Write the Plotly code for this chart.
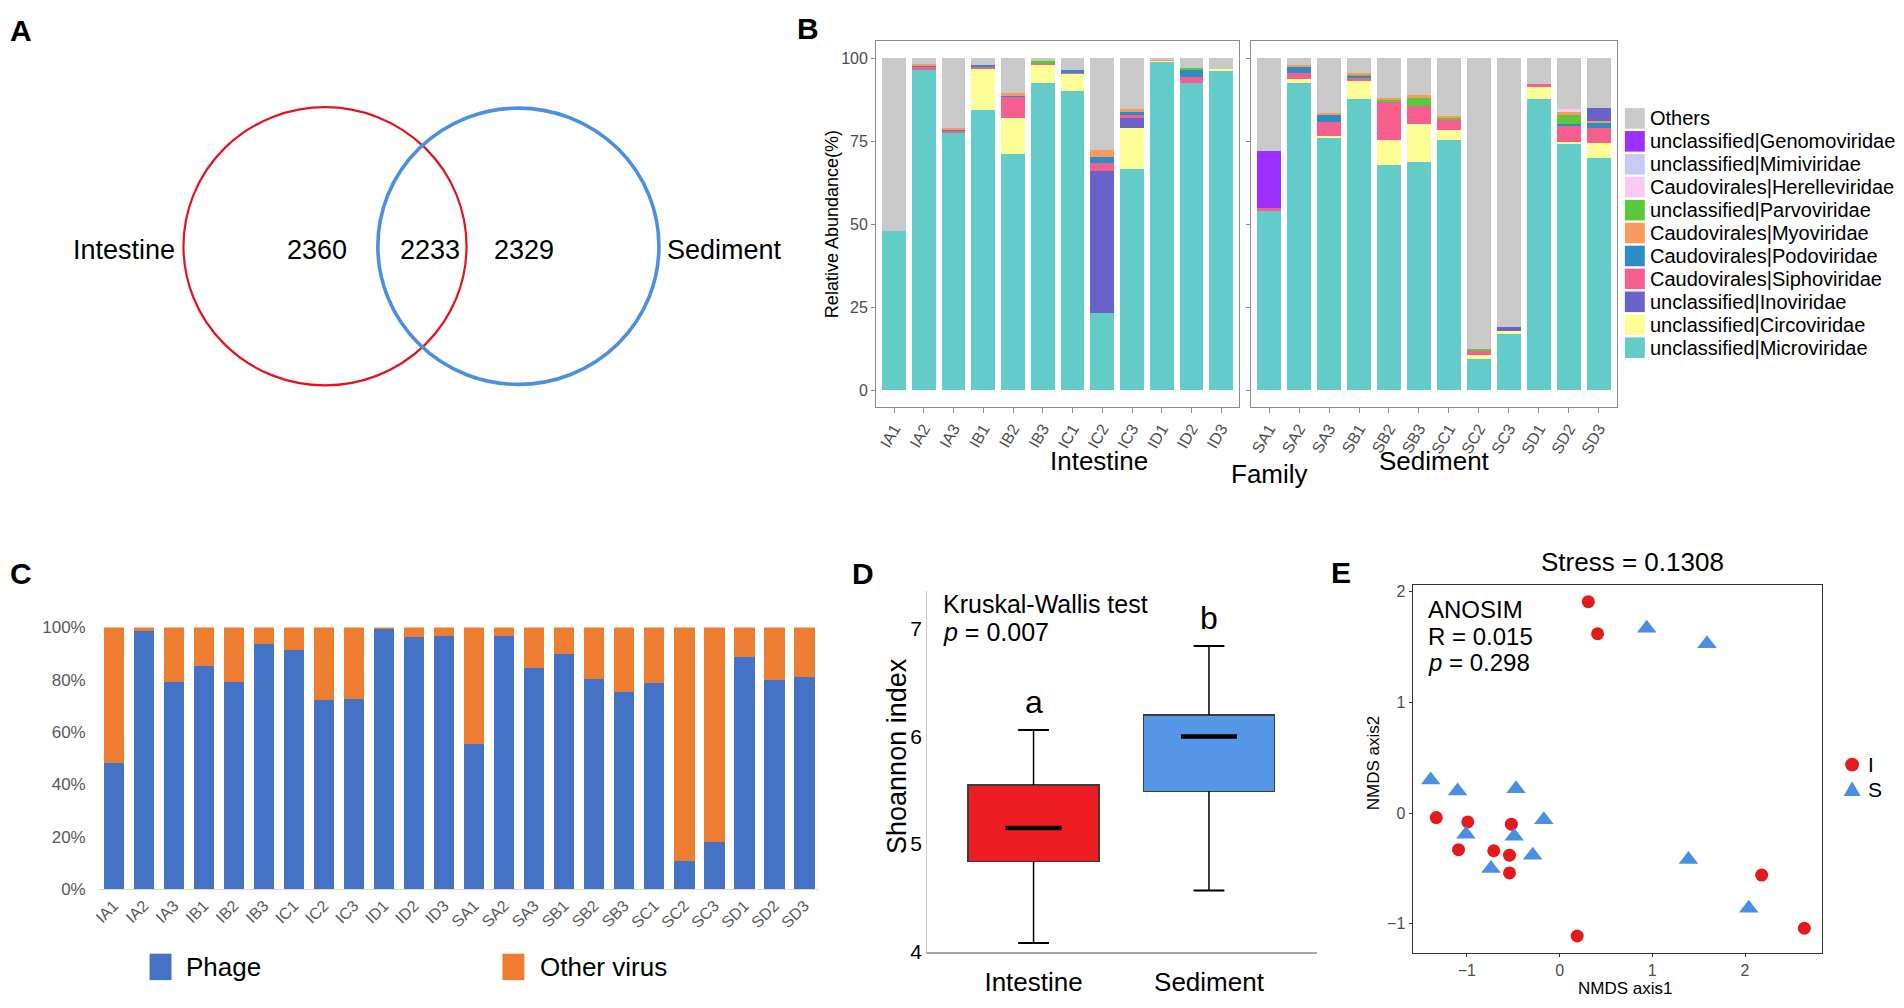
import plotly.graph_objects as go

# ---------------- data ----------------
venn_sets = ["Intestine", "Sediment"]
venn_counts = [2360, 2233, 2329]  # Intestine only, shared, Sediment only

samples_intestine = ["IA1", "IA2", "IA3", "IB1", "IB2", "IB3", "IC1", "IC2", "IC3", "ID1", "ID2", "ID3"]
samples_sediment = ["SA1", "SA2", "SA3", "SB1", "SB2", "SB3", "SC1", "SC2", "SC3", "SD1", "SD2", "SD3"]
facet_names = ["Intestine", "Sediment"]

microviridae = [48.1, 96.4, 77.5, 84.4, 71.2, 92.5, 90.2, 23.2, 66.5, 99.0, 92.5, 96.5,
                53.9, 92.5, 76.3, 87.6, 67.7, 68.7, 75.5, 9.4, 17.2, 87.6, 74.3, 70.0]
circoviridae = [0, 0, 0, 12.2, 10.7, 5.3, 5.3, 0, 12.5, 0.4, 0, 0.2,
                0, 1.1, 0.4, 5.4, 7.7, 11.5, 3.0, 1.2, 0.6, 3.6, 0.5, 4.6]
inoviridae = [0, 0, 0, 0, 0, 0, 0, 42.8, 3.0, 0, 0, 0,
              0, 0, 0, 0, 0, 0, 0, 0, 1.2, 0, 0, 0]
siphoviridae = [0, 0.9, 0.9, 0.7, 6.4, 0.7, 0.4, 2.4, 1.3, 0, 1.9, 0,
                1.1, 2.0, 4.1, 1.4, 11.3, 5.4, 3.0, 1.4, 0, 1.0, 4.7, 4.5]
podoviridae = [0, 0.6, 0.3, 0.6, 0.7, 0, 0.5, 1.7, 0.6, 0, 1.9, 0,
               0, 1.6, 2.1, 0.5, 0, 0, 0, 0, 0, 0, 0.7, 1.4]
parvoviridae = [0, 0, 0, 0, 0, 0.5, 0, 0, 0, 0, 0.7, 0,
                0, 0, 0, 0.3, 0.7, 2.8, 0.7, 0.5, 0, 0, 3.1, 0]
myoviridae = [0, 0.4, 0.4, 0, 0.6, 0, 0, 2.1, 0.9, 0.3, 0, 0,
              0, 0.7, 0.7, 0.3, 0.7, 0.4, 0.5, 0, 0, 0, 0.6, 0.7]
herelleviridae = [0, 0, 0, 0, 0, 0, 0, 0, 0, 0, 0, 0,
                  0, 0, 0, 0, 0, 0, 0, 0, 0, 0, 0.9, 0]
mimiviridae = [0, 0, 0, 0, 0, 0, 0, 0, 0, 0, 0, 0,
               0, 0, 0, 0, 0, 0, 0, 0, 0, 0, 0, 0]
genomoviridae = [0, 0, 0, 0, 0, 0, 0, 0, 0, 0, 0, 0,
                 16.9, 0, 0, 0, 0, 0, 0, 0, 0, 0, 0, 0]
inoviridae_upper = [0, 0, 0, 0, 0, 0, 0, 0, 0, 0, 0, 0,
                    0, 0, 0, 0, 0, 0, 0, 0, 0, 0, 0, 3.8]
others = [51.9, 1.7, 20.9, 2.1, 10.4, 1.0, 3.6, 27.8, 15.2, 0.3, 3.0, 3.3,
          28.1, 2.1, 16.4, 4.5, 11.9, 11.2, 17.3, 87.5, 81.0, 7.8, 15.2, 15.0]

samples_all = samples_intestine + samples_sediment
phage_pct = [48.3, 98.8, 79.3, 85.3, 79.0, 93.6, 91.4, 72.2, 72.6, 99.3, 96.4, 96.6,
             55.3, 96.9, 84.3, 89.9, 80.2, 75.2, 78.7, 10.8, 18.1, 88.8, 80.0, 80.9]
other_virus_pct = [51.7, 1.2, 20.7, 14.7, 21.0, 6.4, 8.6, 27.8, 27.4, 0.7, 3.6, 3.4,
                   44.7, 3.1, 15.7, 10.1, 19.8, 24.8, 21.3, 89.2, 81.9, 11.2, 20.0, 19.1]

box_groups = ["Intestine", "Sediment"]
box_lower = [4.08, 4.57]
box_q1 = [4.84, 5.49]
box_median = [5.15, 6.00]
box_q3 = [5.55, 6.20]
box_upper = [6.06, 6.84]
sig_letters = ["a", "b"]

nmds_groups = ["I", "S"]
nmds_I_x = [0.31, 0.41, -1.33, -0.99, -0.52, -1.09, -0.71, -0.54, -0.54, 2.18, 0.19, 2.64]
nmds_I_y = [1.91, 1.62, -0.04, -0.08, -0.10, -0.33, -0.34, -0.38, -0.54, -0.56, -1.11, -1.04]
nmds_S_x = [0.94, 1.59, -1.39, -1.10, -0.47, -0.17, -1.01, -0.49, -0.29, -0.74, 1.39, 2.04]
nmds_S_y = [1.67, 1.53, 0.30, 0.20, 0.22, -0.06, -0.19, -0.21, -0.38, -0.50, -0.42, -0.86]

# ---------------- layout helpers ----------------
OX, OY, FW, FH = 8, 8, 1888, 990


def fx(X):
    return (X - OX) / FW


def fy(Y):
    return 1 - (Y - OY) / FH


FONT = "Liberation Sans, Arial, Helvetica, sans-serif"
annotations = []
shapes = []


def text(X, Y, s, size, color="black", xanchor="center", yanchor="middle", angle=0):
    annotations.append(dict(x=fx(X), y=fy(Y), xref="paper", yref="paper", text=s, showarrow=False,
                            xanchor=xanchor, yanchor=yanchor, textangle=angle,
                            font=dict(family=FONT, size=size, color=color)))


fig = go.Figure()

# ---------------- Panel A: Venn ----------------
venn_geo = [(320, 242, 142, "#E3141C", 2.2), (514, 242, 141, "#4A90E2", 3.6)]
for cx, cy, r, col, lw in venn_geo:
    shapes.append(dict(type="circle", xref="paper", yref="paper",
                       x0=fx(cx - r), x1=fx(cx + r), y0=fy(cy + r), y1=fy(cy - r),
                       line=dict(color=col, width=lw)))
text(118, 246, venn_sets[0], 27)
text(721, 246, venn_sets[1], 27)
for X, v in zip([312, 425, 520], venn_counts):
    text(X, 246, str(v), 27)

# ---------------- Panel B: stacked family bars ----------------
stack = [
    ("unclassified|Microviridae", microviridae, "#63CBC8"),
    ("unclassified|Circoviridae", circoviridae, "#FDFD96"),
    ("unclassified|Inoviridae", inoviridae, "#6963C9"),
    ("Caudovirales|Siphoviridae", siphoviridae, "#F55E8E"),
    ("Caudovirales|Podoviridae", podoviridae, "#2C8DC6"),
    ("unclassified|Parvoviridae", parvoviridae, "#5BC83B"),
    ("Caudovirales|Myoviridae", myoviridae, "#F89A5D"),
    ("Caudovirales|Herelleviridae", herelleviridae, "#F9C8F3"),
    ("unclassified|Mimiviridae", mimiviridae, "#C9C9F5"),
    ("unclassified|Genomoviridae", genomoviridae, "#9B30FF"),
    ("unclassified|Inoviridae ", inoviridae_upper, "#6963C9"),
    ("Others", others, "#C9C9C9"),
]
n_i = len(samples_intestine)
for name, vals, col in stack:
    for axx, axy, samp, part in [("x", "y", samples_intestine, vals[:n_i]),
                                 ("x2", "y2", samples_sediment, vals[n_i:])]:
        fig.add_trace(go.Bar(x=samp, y=part, xaxis=axx, yaxis=axy, name=name, width=0.8,
                             marker=dict(color=col, line=dict(width=0)), showlegend=False,
                             hoverinfo="x+y+name"))

legend_order = ["Others", "unclassified|Genomoviridae", "unclassified|Mimiviridae",
                "Caudovirales|Herelleviridae", "unclassified|Parvoviridae", "Caudovirales|Myoviridae",
                "Caudovirales|Podoviridae", "Caudovirales|Siphoviridae", "unclassified|Inoviridae",
                "unclassified|Circoviridae", "unclassified|Microviridae"]
col_of = {n: c for n, _, c in stack}
for i, nm in enumerate(legend_order):
    yc = 111.5 + i * 23.4
    shapes.append(dict(type="rect", xref="paper", yref="paper", x0=fx(1624), x1=fx(1644),
                       y0=fy(yc + 10.5), y1=fy(yc - 10.5), fillcolor=col_of[nm], line=dict(width=0)))
    text(1647, yc, nm, 20, xanchor="left")

text(828, 219, "Relative Abundance(%)", 18, angle=-90)
text(1096, 461, facet_names[0], 26)
text(1433, 461, facet_names[1], 26)
text(1268, 474, "Family", 26)

# ---------------- Panel C: phage vs other virus ----------------
fig.add_trace(go.Bar(x=samples_all, y=phage_pct, xaxis="x3", yaxis="y3", width=0.68, name="Phage",
                     marker=dict(color="#4472C4", line=dict(width=0)), showlegend=False))
fig.add_trace(go.Bar(x=samples_all, y=other_virus_pct, xaxis="x3", yaxis="y3", width=0.68,
                     name="Other virus", marker=dict(color="#ED7D31", line=dict(width=0)), showlegend=False))
for (sx, tx, nm, col) in [(144, 179, "Phage", "#4472C4"), (498, 534, "Other virus", "#ED7D31")]:
    shapes.append(dict(type="rect", xref="paper", yref="paper", x0=fx(sx), x1=fx(sx + 22),
                       y0=fy(991), y1=fy(964), fillcolor=col, line=dict(width=0)))
    text(tx, 978, nm, 26, xanchor="left")

# ---------------- Panel D: Shannon boxplot ----------------
box_colors = ["#EE1D24", "#5596E6"]
fig.add_trace(go.Bar(x=box_groups, y=[b - a for a, b in zip(box_q1, box_q3)], base=box_q1,
                     xaxis="x4", yaxis="y4", width=0.745, showlegend=False,
                     marker=dict(color=box_colors, line=dict(color="#3C3C3C", width=1.5))))
wx, wy = [], []
for g, lo, a, b, hi in zip(box_groups, box_lower, box_q1, box_q3, box_upper):
    wx += [g, g, None, g, g, None]
    wy += [lo, a, None, b, hi, None]
fig.add_trace(go.Scatter(x=wx, y=wy, xaxis="x4", yaxis="y4", mode="lines", showlegend=False,
                         line=dict(color="black", width=1.5), hoverinfo="skip"))
fig.add_trace(go.Scatter(x=box_groups + box_groups, y=box_lower + box_upper, xaxis="x4", yaxis="y4",
                         mode="markers", showlegend=False,
                         marker=dict(symbol="line-ew", size=22, line=dict(color="black", width=2))))
fig.add_trace(go.Scatter(x=box_groups, y=box_median, xaxis="x4", yaxis="y4", mode="markers",
                         showlegend=False,
                         marker=dict(symbol="line-ew", size=40, line=dict(color="black", width=4.5))))
for g, hi, s in zip(box_groups, box_upper, sig_letters):
    annotations.append(dict(x=g, y=hi, xref="x4", yref="y4", text=s, showarrow=False,
                            yanchor="bottom", yshift=8, font=dict(family=FONT, size=32, color="black")))
text(938, 607, "Kruskal-Wallis test", 25, xanchor="left")
text(938, 636, "<i>p</i> = 0.007", 25, xanchor="left")
text(894, 762, "Shoannon index", 27, angle=-90)

# ---------------- Panel E: NMDS ----------------
red_pt, blue_pt = "#E41A1C", "#4A90E2"
fig.add_trace(go.Scatter(x=nmds_I_x, y=nmds_I_y, xaxis="x5", yaxis="y5", mode="markers",
                         name=nmds_groups[0], showlegend=False,
                         marker=dict(symbol="circle", size=13, color=red_pt)))
fig.add_trace(go.Scatter(x=nmds_S_x, y=nmds_S_y, xaxis="x5", yaxis="y5", mode="markers",
                         name=nmds_groups[1], showlegend=False,
                         marker=dict(symbol="triangle-up", size=17, color=blue_pt)))
text(1632, 564, "Stress = 0.1308", 26)
text(1424, 613, "ANOSIM", 24, xanchor="left")
text(1424, 640, "R = 0.015", 24, xanchor="left")
text(1424, 667, "<i>p</i> = 0.298", 24, xanchor="left")
text(1624, 1000, "NMDS axis1", 17)
text(1372, 770, "NMDS axis2", 17, angle=-90)
# legend of E (I: circle, S: triangle)
shapes.append(dict(type="circle", xref="paper", yref="paper", x0=fx(1845), x1=fx(1859),
                   y0=fy(778), y1=fy(764), fillcolor=red_pt, line=dict(width=0)))
shapes.append(dict(type="path", xref="paper", yref="paper",
                   path="M %f,%f L %f,%f L %f,%f Z" % (fx(1843.5), fy(803), fx(1860.5), fy(803),
                                                       fx(1852), fy(788)),
                   fillcolor=blue_pt, line=dict(width=0)))
text(1866, 771, nmds_groups[0], 21, xanchor="left")
text(1866, 796, nmds_groups[1], 21, xanchor="left")

# ---------------- panel letters ----------------
for L, X, Y in [("A", 15, 22), ("B", 805, 20), ("C", 15, 576), ("D", 860, 576), ("E", 1339, 575)]:
    text(X, Y, "<b>%s</b>" % L, 30)

# ---------------- axes ----------------
grey = "#8C8C8C"
tick_grey = "#4D4D4D"
b_x_common = dict(type="category", showline=True, mirror=True, linecolor=grey, linewidth=1.3,
                  ticks="outside", ticklen=5, tickcolor=grey, tickangle=-60, showgrid=False,
                  range=[-0.6, 11.6], tickfont=dict(family=FONT, size=16, color=tick_grey))
b_y_common = dict(range=[-5, 105.3], tickvals=[0, 25, 50, 75, 100], showline=True, mirror=True,
                  linecolor=grey, linewidth=1.3, ticks="outside", ticklen=4, tickcolor=grey,
                  showgrid=False, zeroline=False, tickfont=dict(family=FONT, size=16, color=tick_grey),
                  domain=[fy(406), fy(32)])

fig.update_layout(
    width=FW, height=FH, margin=dict(l=0, r=0, t=0, b=0, pad=0), autosize=False,
    paper_bgcolor="white", plot_bgcolor="white", barmode="stack",
    font=dict(family=FONT, color="black"),
    xaxis=dict(domain=[fx(873), fx(1237)], anchor="y", categoryorder="array",
               categoryarray=samples_intestine, **b_x_common),
    yaxis=dict(anchor="x", **b_y_common),
    xaxis2=dict(domain=[fx(1249), fx(1616)], anchor="y2", categoryorder="array",
                categoryarray=samples_sediment, **b_x_common),
    yaxis2=dict(anchor="x2", showticklabels=False, **b_y_common),
    xaxis3=dict(domain=[fx(93), fx(816)], anchor="y3", type="category", categoryorder="array",
                categoryarray=samples_all, range=[-0.5, 23.5], showline=True, linecolor="#D9D9D9",
                linewidth=1.2, ticks="", tickangle=-45, showgrid=False,
                tickfont=dict(family=FONT, size=16, color="#595959")),
    yaxis3=dict(domain=[fy(898), fy(631)], anchor="x3", range=[0, 100],
                tickvals=[0, 20, 40, 60, 80, 100], ticktext=["0%", "20%", "40%", "60%", "80%", "100%"],
                showline=False, showgrid=False, zeroline=False, ticks="", ticklabelstandoff=12,
                tickfont=dict(family=FONT, size=17, color="#595959")),
    xaxis4=dict(domain=[fx(924), fx(1315)], anchor="y4", type="category", categoryorder="array",
                categoryarray=box_groups, range=[-0.607, 1.615], showline=True, linecolor="#A6A6A6",
                linewidth=2, ticks="", showgrid=False, ticklabelstandoff=6,
                tickfont=dict(family=FONT, size=26, color="black")),
    yaxis4=dict(domain=[fy(962), fy(594)], anchor="x4", range=[4, 7.35], tickvals=[4, 5, 6, 7],
                showline=True, linecolor="#C8C8C8", linewidth=1, ticks="", showgrid=False,
                zeroline=False, tickfont=dict(family=FONT, size=21, color="black")),
    xaxis5=dict(domain=[fx(1411), fx(1822)], anchor="y5", range=[-1.586, 2.833], tickvals=[-1, 0, 1, 2],
                showline=True, mirror=True, linecolor="#333333", linewidth=1, ticks="outside",
                ticklen=3, tickcolor="#333333", showgrid=False, zeroline=False,
                tickfont=dict(family=FONT, size=16, color=tick_grey)),
    yaxis5=dict(domain=[fy(963), fy(588)], anchor="x5", range=[-1.261, 2.058], tickvals=[-1, 0, 1, 2],
                showline=True, mirror=True, linecolor="#333333", linewidth=1, ticks="outside",
                ticklen=3, tickcolor="#333333", showgrid=False, zeroline=False,
                tickfont=dict(family=FONT, size=16, color=tick_grey)),
    showlegend=False,
    annotations=annotations, shapes=shapes,
)

fig.write_html("out.html")
